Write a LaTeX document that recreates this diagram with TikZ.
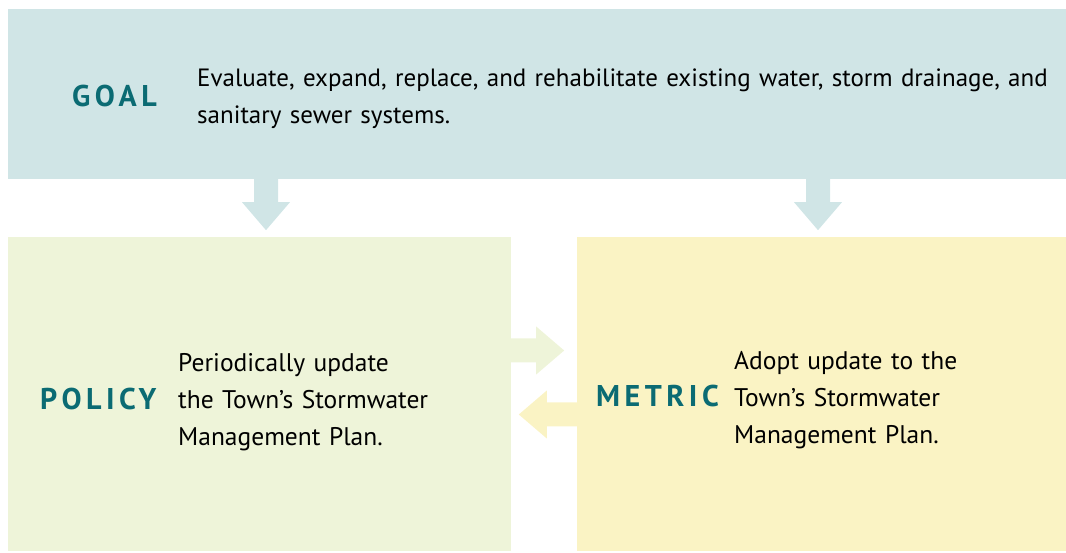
\documentclass[tikz,border=0pt]{standalone}
\usepackage{fontspec}
\setmainfont{PT Sans}
\newfontfamily\lblfont[LetterSpace=15.0]{PT Sans}
\usetikzlibrary{positioning}
\definecolor{goalc}{HTML}{D0E5E6}
\definecolor{policyc}{HTML}{EEF4D9}
\definecolor{metricc}{HTML}{FAF3C4}
\definecolor{teal}{HTML}{0B6B73}

\begin{document}
\begin{tikzpicture}[x=1pt,y=1pt]
	\tikzstyle{box}=[rectangle,inner sep=0pt,minimum height=314pt]
	\tikzstyle{label}=[anchor=base west,inner sep=0pt,font=\lblfont\bfseries\fontsize{30}{34}\selectfont,text=teal]
	\tikzstyle{body}=[anchor=base west,inner sep=0pt,align=left,font=\fontsize{25.5}{37}\selectfont]
	\tikzset{fatarrow/.pic={\path[pic actions] (0,-12) -- (#1-28,-12) -- (#1-28,-24) -- (#1,0) -- (#1-28,24) -- (#1-28,12) -- (0,12) -- cycle;}}
	\useasboundingbox (0,0) rectangle (1066,552);

	\node [box,fill=goalc,minimum width=1058pt,minimum height=170pt] (goal) at (537,458) {};
	\node [box,fill=policyc,minimum width=503pt] (policy) at (259.5,158) {};
	\node [box,fill=metricc,minimum width=489pt] (metric) at (821.5,158) {};

	\node [label] (goallbl) at (72,445) {GOAL};
	\node [body,text width=866pt,font=\fontsize{25}{37}\selectfont] (goaltext) at (197,465) {Evaluate, expand, replace, and rehabilitate existing water, storm drainage, and\\sanitary sewer systems.};
	\node [label] (policylbl) at (40,142) {POLICY};
	\node [body,text width=300pt] (policytext) at (178,180) {Periodically update\\the Town’s Stormwater\\Management Plan.};
	\node [label] (metriclbl) at (596,145) {METRIC};
	\node [body,text width=300pt] (metrictext) at (734,182) {Adopt update to the\\Town’s Stormwater\\Management Plan.};

	\pic [fill=goalc,rotate=-90] at ([xshift=6.5pt]goal.south -| policy.north) {fatarrow=51};
	\pic [fill=goalc,rotate=-90] at ([xshift=-3.5pt]goal.south -| metric.north) {fatarrow=51};
	\pic [fill=policyc] at ([yshift=43.5pt]policy.east) {fatarrow=53};
	\pic [fill=metricc,rotate=180] at ([yshift=-20.5pt]metric.west) {fatarrow=58};
\end{tikzpicture}
\end{document}
